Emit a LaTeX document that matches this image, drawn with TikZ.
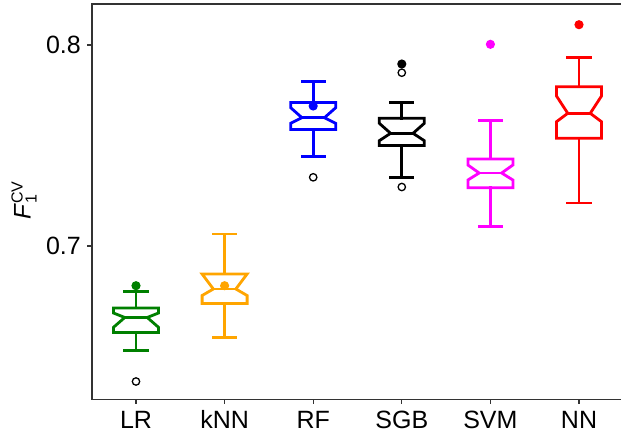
\documentclass[tikz,border=0pt]{standalone}
\usepackage{fontspec}
\setmainfont{Liberation Sans}
\definecolor{lrgreen}{RGB}{0,128,0}
\definecolor{knnorange}{RGB}{255,165,0}
\definecolor{rfblue}{RGB}{0,0,255}
\definecolor{svmmagenta}{RGB}{255,0,255}
\definecolor{nnred}{RGB}{255,0,0}
\definecolor{spinegray}{RGB}{51,51,51}
\tikzstyle{spine} = [draw=spinegray, 
			line width=1.3pt]
\tikzstyle{tick} = [draw=spinegray, 
			line width=1.1pt]
\tikzstyle{ticklabel} = [inner sep=0pt, 
			font=\fontsize{25}{30}\selectfont]
\tikzstyle{boxline} = [line width=2.8pt, 
			line join=miter]
\tikzstyle{whisker} = [line width=2.8pt, 
			line cap=rect]
\tikzstyle{flier} = [draw=black, 
			line width=1.3pt, 
			fill=white]
% #1 colour, #2 x, #3 top cap, #4 q3, #5 notch top, #6 median, #7 notch bottom, #8 q1, #9 bottom cap
\newcommand{\notchbox}[9]{%
	\draw [whisker, #1] (#2,#4) -- (#2,#3) (#2,#8) -- (#2,#9);
	\draw [whisker, #1] ({#2-11.25},#3) -- ({#2+11.25},#3) ({#2-11.25},#9) -- ({#2+11.25},#9);
	\draw [boxline, #1] ({#2-22.5},#8) -- ({#2-22.5},#7) -- ({#2-11.25},#6) -- ({#2-22.5},#5) -- ({#2-22.5},#4)
		-- ({#2+22.5},#4) -- ({#2+22.5},#5) -- ({#2+11.25},#6) -- ({#2+22.5},#7) -- ({#2+22.5},#8) -- cycle;
	\draw [boxline, #1] ({#2-11.25},#6) -- ({#2+11.25},#6);
}

\begin{document}
\begin{tikzpicture}[x=1pt, y=-1pt]
	\useasboundingbox [fill=white] (0,0) rectangle (621,437);
	% axes
	\coordinate (top-left) at (92,4);
	\coordinate (top-right) at (621,4);
	\coordinate (origin) at (92,399.3);
	\coordinate (bottom-right) at (621,399.3);
	\path [spine] (top-right) -- (top-left) -- (origin) -- (bottom-right);
	% y ticks
	\path [tick] (87,45) -- (92,45);
	\path [tick] (87,246) -- (92,246);
	\node [ticklabel, anchor=east] (tick-08) at (81,45) {0.8};
	\node [ticklabel, anchor=east] (tick-07) at (81,246) {0.7};
	\node [rotate=90, inner sep=0pt, font=\fontsize{24}{28}\selectfont] (ylabel) at (24,207)
		{\textit{F}\makebox[0pt][l]{\raisebox{8pt}{\fontsize{16}{16}\selectfont CV}}\raisebox{-6pt}{\fontsize{16}{16}\selectfont 1}};
	% x ticks
	\foreach \x/\name in {136/LR, 224.6/kNN, 313.2/RF, 401.8/SGB, 490.4/SVM, 579/NN} {
		\path [tick] (\x,399.3) -- (\x,404);
		\node [ticklabel, anchor=base] (tick-\name) at (\x,428) {\name};
	}
	% boxes
	\notchbox{lrgreen}{136}{291.7}{308}{313}{317.5}{327.3}{332.5}{350.5}
	\notchbox{knnorange}{224.6}{234}{274}{274}{289}{295.5}{303.5}{337.3}
	\notchbox{rfblue}{313.2}{81.7}{102.5}{107.7}{117.7}{123.3}{129.5}{156.3}
	\notchbox{black}{401.8}{102.5}{118.3}{123.3}{133.3}{140.7}{145.5}{177.3}
	\notchbox{svmmagenta}{490.4}{120.3}{159}{165}{173}{180}{187.7}{226.7}
	\notchbox{nnred}{579}{57.7}{86.7}{96}{113.3}{121.7}{138.3}{203}
	% outliers
	\path [flier] (136,381.5) circle (3.7pt);
	\path [flier] (313.2,177.3) circle (3.7pt);
	\path [flier] (401.8,72.7) circle (3.7pt);
	\path [flier] (401.8,187) circle (3.7pt);
	% means
	\fill [lrgreen] (136,285.7) circle (4.6pt);
	\fill [knnorange] (224.6,285.7) circle (4.6pt);
	\fill [rfblue] (313.2,106) circle (4.6pt);
	\fill [black] (401.8,64) circle (4.6pt);
	\fill [svmmagenta] (490.4,44.3) circle (4.6pt);
	\fill [nnred] (579,24.7) circle (4.6pt);
\end{tikzpicture}
\end{document}
